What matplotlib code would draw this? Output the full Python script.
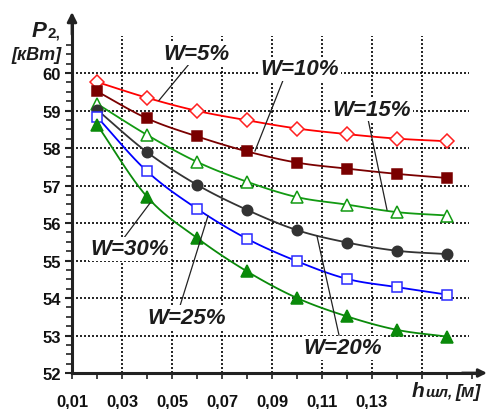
import numpy as np
import matplotlib
matplotlib.use("Agg")
import matplotlib.pyplot as plt

# ---------------- data ----------------
h = [0.02, 0.04, 0.06, 0.08, 0.10, 0.12, 0.14, 0.16]
p_w5 = [59.76, 59.34, 58.99, 58.74, 58.52, 58.37, 58.25, 58.18]
p_w10 = [59.51, 58.79, 58.31, 57.91, 57.61, 57.45, 57.31, 57.20]
p_w15 = [59.18, 58.35, 57.63, 57.10, 56.69, 56.49, 56.29, 56.20]
p_w20 = [59.02, 57.89, 57.02, 56.35, 55.81, 55.48, 55.26, 55.17]
p_w25 = [58.83, 57.38, 56.38, 55.58, 54.98, 54.51, 54.29, 54.09]
p_w30 = [58.62, 56.70, 55.60, 54.71, 54.00, 53.51, 53.15, 52.97]

x_ticks = [0.01, 0.03, 0.05, 0.07, 0.09, 0.11, 0.13]
x_ticklabels = ["0,01", "0,03", "0,05", "0,07", "0,09", "0,11", "0,13"]
y_ticks = [52, 53, 54, 55, 56, 57, 58, 59, 60]
series_labels = ["W=5%", "W=10%", "W=15%", "W=20%", "W=25%", "W=30%"]

FONT = "Liberation Sans"
W, H = 487, 410


def smooth(x, y, n=12):
    x = np.asarray(x, float)
    y = np.asarray(y, float)
    m = np.gradient(y, x)
    xs, ys = [], []
    for i in range(len(x) - 1):
        t = np.linspace(0, 1, n, endpoint=(i == len(x) - 2))
        hh = x[i + 1] - x[i]
        h00 = 2 * t**3 - 3 * t**2 + 1
        h10 = t**3 - 2 * t**2 + t
        h01 = -2 * t**3 + 3 * t**2
        h11 = t**3 - t**2
        xs.append(x[i] + t * hh)
        ys.append(h00 * y[i] + h10 * hh * m[i] + h01 * y[i + 1] + h11 * hh * m[i + 1])
    return np.concatenate(xs), np.concatenate(ys)


fig = plt.figure(figsize=(W / 100, H / 100), dpi=100)
ax_left, ax_right, ax_bottom, ax_top = 72, 487, 374, 13
ax = fig.add_axes([ax_left / W, (H - ax_bottom) / H,
                   (ax_right - ax_left) / W, (ax_bottom - ax_top) / H])
x0 = 0.01
xmax = x0 + (ax_right - ax_left) / 2500.0
y0 = 52
ymax = y0 + (ax_bottom - ax_top) / 37.5
ax.set_xlim(x0, xmax)
ax.set_ylim(y0, ymax)

# grid (dotted)
for gx in [0.03, 0.05, 0.07, 0.09, 0.11, 0.13, 0.15]:
    ax.plot([gx, gx], [52, 61], color="black", lw=1.2, ls=(0, (1.2, 1.2)), zorder=1)
for gy in [53, 54, 55, 56, 57, 58, 59, 60]:
    ax.plot([0.01, 0.169], [gy, gy], color="black", lw=1.2, ls=(0, (1.2, 1.2)), zorder=1)

styles = [
    dict(color="#ff0000", marker="D", mfc="white", mec="#ff2020", ms=7),
    dict(color="#7a0000", marker="s", mfc="#7a0000", mec="#7a0000", ms=7),
    dict(color="#129a12", marker="^", mfc="white", mec="#129a12", ms=8),
    dict(color="#333333", marker="o", mfc="#333333", mec="#333333", ms=7.5),
    dict(color="#0000ff", marker="s", mfc="white", mec="#2a2aff", ms=7.5),
    dict(color="#0a8a0a", marker="^", mfc="#0a8a0a", mec="#0a8a0a", ms=8),
]
all_series = [p_w5, p_w10, p_w15, p_w20, p_w25, p_w30]
for ys, st in zip(all_series, styles):
    sx, sy = smooth(h, ys)
    ax.plot(sx, sy, color=st["color"], lw=1.3, zorder=3)
    ax.plot(h, ys, ls="none", marker=st["marker"], mfc=st["mfc"], mec=st["mec"],
            ms=st["ms"], mew=1.1, zorder=4)

# series labels with leader lines
lab_pos = [(0.0596, 60.53), (0.1012, 60.11), (0.130, 59.04),
           (0.1184, 52.67), (0.056, 53.49), (0.0332, 55.31)]
leaders = [((0.0572, 60.27), (0.0448, 59.27)),
           ((0.0948, 59.87), (0.0832, 57.92)),
           ((0.1284, 58.77), (0.1360, 56.35)),
           ((0.1168, 53.01), (0.1080, 55.65)),
           ((0.0532, 53.79), (0.0644, 56.19)),
           ((0.0304, 55.57), (0.0412, 56.53))]
for lab, (lx, ly), (a, b) in zip(series_labels, lab_pos, leaders):
    ax.plot([a[0], b[0]], [a[1], b[1]], color="#222222", lw=0.9, zorder=5)
    ax.text(lx, ly, lab, fontsize=16, fontweight="bold", style="italic",
            family=FONT, color="#1c1c1c", ha="center", va="center", zorder=6,
            bbox=dict(facecolor="white", edgecolor="none", pad=1.0))

# spines
for s in ["top", "right"]:
    ax.spines[s].set_visible(False)
ax.spines["left"].set_linewidth(2.2)
ax.spines["bottom"].set_linewidth(2.2)
ax.spines["left"].set_color("#222222")
ax.spines["bottom"].set_color("#222222")
ax.spines["left"].set_bounds(52, ymax - 0.25)
ax.spines["bottom"].set_bounds(0.01, xmax - 0.004)
ax.annotate("", xy=(0.01, ymax), xytext=(0.01, ymax - 0.6),
            arrowprops=dict(arrowstyle="-|>", color="#222222", lw=2,
                            mutation_scale=14, shrinkA=0, shrinkB=0),
            annotation_clip=False)
ax.annotate("", xy=(xmax, 52), xytext=(xmax - 0.01, 52),
            arrowprops=dict(arrowstyle="-|>", color="#222222", lw=2,
                            mutation_scale=12, shrinkA=0, shrinkB=0),
            annotation_clip=False)

# ticks
ax.set_yticks(y_ticks)
ax.set_yticklabels([str(v) for v in y_ticks])
ax.set_yticks([v for v in np.arange(52.25, 61.0, 0.25) if abs(v - round(v)) > 0.01], minor=True)
ax.set_xticks(x_ticks)
ax.set_xticklabels(x_ticklabels)
ax.set_xticks([round(v, 2) for v in np.arange(0.02, 0.175, 0.01) if round(v, 2) not in x_ticks], minor=True)
ax.tick_params(axis="y", which="major", direction="out", length=5, width=1.5,
               pad=3, labelsize=12, color="#222222")
ax.tick_params(axis="y", which="minor", direction="out", length=4, width=1.2, color="#222222")
ax.tick_params(axis="x", which="major", direction="out", length=4, width=1.2,
               pad=11, labelsize=12, color="#222222")
ax.tick_params(axis="x", which="minor", direction="out", length=4, width=1.2, color="#222222")
for lab in ax.get_xticklabels() + ax.get_yticklabels():
    lab.set_fontfamily(FONT)
    lab.set_fontweight("bold")
    lab.set_color("#111111")

# axis titles
def fx(px):
    return px / W


def fy(py):
    return 1 - py / H

fig.text(fx(32), fy(37), "P", fontsize=16, fontweight="bold", style="italic",
         family=FONT, color="#1c1c1c", ha="left", va="baseline")
fig.text(fx(47), fy(37), "2,", fontsize=11, fontweight="bold",
         family=FONT, color="#1c1c1c", ha="left", va="baseline")
fig.text(fx(37), fy(55), "[кВт]", fontsize=13, fontweight="bold", style="italic",
         family=FONT, color="#1c1c1c", ha="center", va="center")
fig.text(fx(412), fy(397), "h", fontsize=15, fontweight="bold", style="italic",
         family=FONT, color="#1c1c1c", ha="left", va="baseline")
fig.text(fx(425), fy(397), "шл,", fontsize=11, fontweight="bold", style="italic",
         family=FONT, color="#1c1c1c", ha="left", va="baseline")
fig.text(fx(455), fy(397), "[м]", fontsize=13, fontweight="bold", style="italic",
         family=FONT, color="#1c1c1c", ha="left", va="baseline")

fig.savefig("out.png", dpi=100)
